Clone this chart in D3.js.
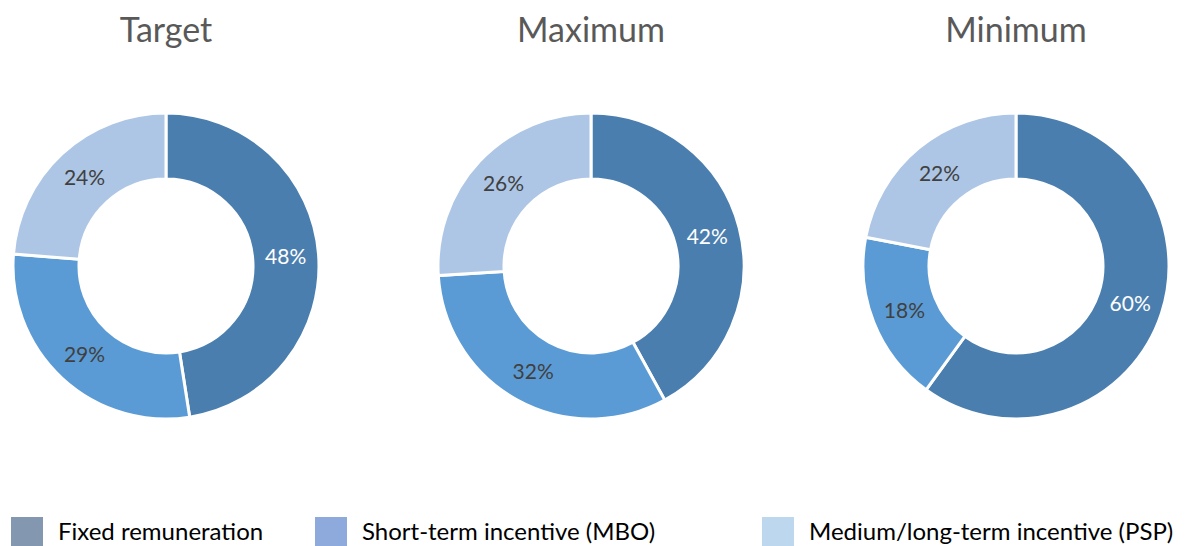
<!DOCTYPE html>
<html>
<head>
<meta charset="utf-8">
<script src="https://cdn.jsdelivr.net/npm/d3@7"></script>
<style>
  body { margin: 0; background: white; overflow: hidden; }
  text { font-family: Lato, "Open Sans", sans-serif; }
</style>
</head>
<body>
<div id="chart"></div>
<script>
// chart data
var scenarios = ["Target", "Maximum", "Minimum"];
var components = ["Fixed remuneration", "Short-term incentive (MBO)", "Medium/long-term incentive (PSP)"];
var targetValues = [48, 29, 24];
var maximumValues = [42, 32, 26];
var minimumValues = [60, 18, 22];

var sliceColors = ["#4a7eaf", "#5b9bd5", "#adc6e5"];
var legendColors = ["#8497b0", "#8ea9db", "#bdd7ee"];
var labelColors = ["#ffffff", "#404040", "#404040"];

var width = 1187, height = 546;

var svg = d3.select("#chart")
   .append("svg")
   .attr("width", width)
   .attr("height", height);

// centres of the three donuts
var cx = d3.scalePoint()
   .domain(scenarios)
   .range([166, 1016]);

var pie = d3.pie().sort(null).value(function (d) { return d; });
var outerR = 153, innerR = 87;
var arc = d3.arc().innerRadius(innerR).outerRadius(outerR);
var labelArc = d3.arc().innerRadius((innerR + outerR) / 2).outerRadius((innerR + outerR) / 2);

var allValues = [targetValues, maximumValues, minimumValues];

scenarios.forEach(function (name, i) {
   var g = svg.append("g")
      .attr("transform", "translate(" + cx(name) + "," + 266 + ")");

   var arcs = pie(allValues[i]);

   g.selectAll("path")
      .data(arcs)
      .enter()
      .append("path")
      .attr("d", arc)
      .attr("fill", function (d, j) { return sliceColors[j]; })
      .attr("stroke", "white")
      .attr("stroke-width", 3);

   g.selectAll(".lbl")
      .data(arcs)
      .enter()
      .append("text")
      .attr("class", "lbl")
      .attr("transform", function (d) { return "translate(" + labelArc.centroid(d) + ")"; })
      .attr("text-anchor", "middle")
      .attr("dy", "0.36em")
      .style("font-size", "21px")
      .style("fill", function (d, j) { return labelColors[j]; })
      .text(function (d) { return d.data + "%"; });

   // title
   svg.append("text")
      .attr("x", cx(name))
      .attr("y", 42)
      .attr("text-anchor", "middle")
      .style("font-size", "34px")
      .style("fill", "#595959")
      .text(name);
});

// legend
var legendX = [11, 315, 762];
var legend = svg.selectAll(".legend")
   .data(components)
   .enter()
   .append("g")
   .attr("class", "legend")
   .attr("transform", function (d, i) { return "translate(" + legendX[i] + ",517)"; });

legend.append("rect")
   .attr("width", 32)
   .attr("height", 32)
   .attr("fill", function (d, i) { return legendColors[i]; });

legend.append("text")
   .attr("x", 47)
   .attr("y", 23)
   .style("font-size", "24px")
   .style("fill", "#000")
   .text(function (d) { return d; });
</script>
</body>
</html>
